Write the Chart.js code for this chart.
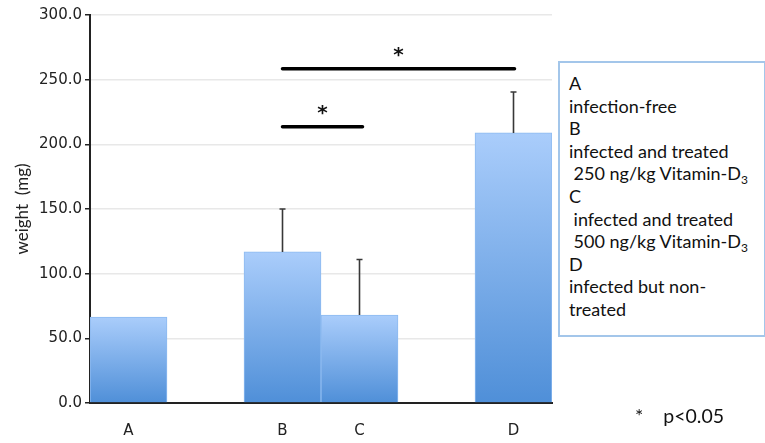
<!DOCTYPE html>
<html>
<head>
<meta charset="utf-8">
<script src="https://cdn.jsdelivr.net/npm/chart.js@4/dist/chart.umd.min.js"></script>
<style>
  html, body { margin: 0; padding: 0; background: #fff; }
  #wrap { position: relative; width: 765px; height: 443px; overflow: hidden; }
  canvas { position: absolute; left: 0; top: 0; }
  #legendBox {
    position: absolute; left: 558px; top: 61px; width: 195px; height: 263px;
    border: 2px solid #a3c6ea; background: #fff;
    font-family: Lato, "Liberation Sans", sans-serif; font-size: 18px; color: #111;
    line-height: 22.6px; padding: 9px 0 0 9px; box-sizing: content-box; white-space: pre;
  }
  #legendBox sub { font-size: 12px; vertical-align: -4px; line-height: 0; }
  #pnote {
    position: absolute; left: 635px; top: 404px;
    font-family: Lato, "Liberation Sans", sans-serif; font-size: 19.5px; color: #111; white-space: pre;
  }
</style>
</head>
<body>
<div id="wrap">
  <canvas id="c" width="765" height="443"></canvas>
  <div id="legendBox"></div>
  <div id="pnote">*    p&lt;0.05</div>
</div>
<script>
// ---- data ----
const categories = ['A', '', 'B', 'C', '', 'D'];
const meanWeight = [66.5, null, 116.8, 68, null, 208.8];
const errorTop   = [null, null, 150.0, 111.0, null, 240.5];
const yTicks = [0, 50, 100, 150, 200, 250, 300];
const sigFrom  = [2, 2];
const sigTo    = [5, 3];
const sigLevel = [258.5, 213.5];
const legendLines = ['A', 'infection-free', 'B', 'infected and treated', ' 250 ng/kg Vitamin-D<sub>3</sub>', 'C', ' infected and treated', ' 500 ng/kg Vitamin-D<sub>3</sub>', 'D', 'infected but non-', 'treated'];

document.getElementById('legendBox').innerHTML = legendLines.join('\n');

function barGradient(ctx) {
  const chart = ctx.chart;
  const v = meanWeight[ctx.dataIndex];
  if (!chart.chartArea || v == null) return '#7fb0ea';
  const ys = chart.scales.y;
  const top = ys.getPixelForValue(v);
  const bot = ys.getPixelForValue(0);
  const g = chart.ctx.createLinearGradient(0, top, 0, bot);
  g.addColorStop(0, '#aacdfb');
  g.addColorStop(1, '#4f8fd8');
  return g;
}

const overlay = {
  id: 'overlay',
  afterDatasetsDraw(chart) {
    const ctx = chart.ctx;
    const meta = chart.getDatasetMeta(0);
    const ys = chart.scales.y;
    const xs = chart.scales.x;
    ctx.save();
    // error bars
    ctx.strokeStyle = '#383838';
    ctx.lineWidth = 1.6;
    errorTop.forEach((e, i) => {
      if (e == null || meanWeight[i] == null) return;
      const el = meta.data[i];
      const x = el.x;
      const y0 = ys.getPixelForValue(meanWeight[i]);
      const y1 = ys.getPixelForValue(e);
      ctx.beginPath();
      ctx.moveTo(x, y0); ctx.lineTo(x, y1);
      ctx.moveTo(x - 3, y1); ctx.lineTo(x + 3, y1);
      ctx.stroke();
    });
    // significance lines
    ctx.strokeStyle = '#000';
    ctx.lineWidth = 3.5;
    ctx.lineCap = 'round';
    ctx.fillStyle = '#111';
    ctx.font = 'bold 20px "DejaVu Sans", sans-serif';
    ctx.textAlign = 'center';
    ctx.textBaseline = 'middle';
    sigLevel.forEach((lv, k) => {
      const xa = xs.getPixelForValue(sigFrom[k]);
      const xb = xs.getPixelForValue(sigTo[k]) + (sigTo[k] === 3 ? 3 : 1);
      const y = ys.getPixelForValue(lv);
      ctx.beginPath();
      ctx.moveTo(xa, y); ctx.lineTo(xb, y);
      ctx.stroke();
      ctx.fillText('*', (xa + xb) / 2, y - 13);
    });
    ctx.restore();
  }
};

new Chart(document.getElementById('c'), {
  type: 'bar',
  data: {
    labels: categories,
    datasets: [{
      data: meanWeight,
      backgroundColor: barGradient,
      borderColor: '#8dbaf0',
      borderWidth: 1,
      categoryPercentage: 1.0,
      barPercentage: 1.0
    }]
  },
  options: {
    responsive: false,
    animation: false,
    devicePixelRatio: 1,
    layout: { padding: { top: 15, right: 213, bottom: 0, left: 0 } },
    plugins: { legend: { display: false }, tooltip: { enabled: false } },
    scales: {
      x: {
        grid: { display: false, drawTicks: false },
        border: { display: true, color: '#222', width: 2 },
        ticks: { padding: 19, color: '#222', font: { family: '"DejaVu Sans", sans-serif', size: 15 } },
        afterFit(s) { s.height = 40; }
      },
      y: {
        min: 0, max: 300,
        afterBuildTicks(s) { s.ticks = yTicks.map(v => ({ value: v })); },
        grid: { color: '#e8e8e8', lineWidth: 1.5, tickColor: '#222', tickLength: 5, tickWidth: 1.5 },
        border: { display: true, color: '#222', width: 2 },
        ticks: {
          padding: 3, color: '#222',
          font: { family: '"DejaVu Sans", sans-serif', size: 15 },
          callback: v => Number(v).toFixed(1)
        },
        title: {
          display: true, text: 'weight  (mg)', color: '#222',
          font: { family: 'Lato, "Liberation Sans", sans-serif', size: 17 },
          padding: { top: 12, bottom: 0 }
        },
        afterFit(s) { s.width = 90; }
      }
    }
  },
  plugins: [overlay]
});
</script>
</body>
</html>
